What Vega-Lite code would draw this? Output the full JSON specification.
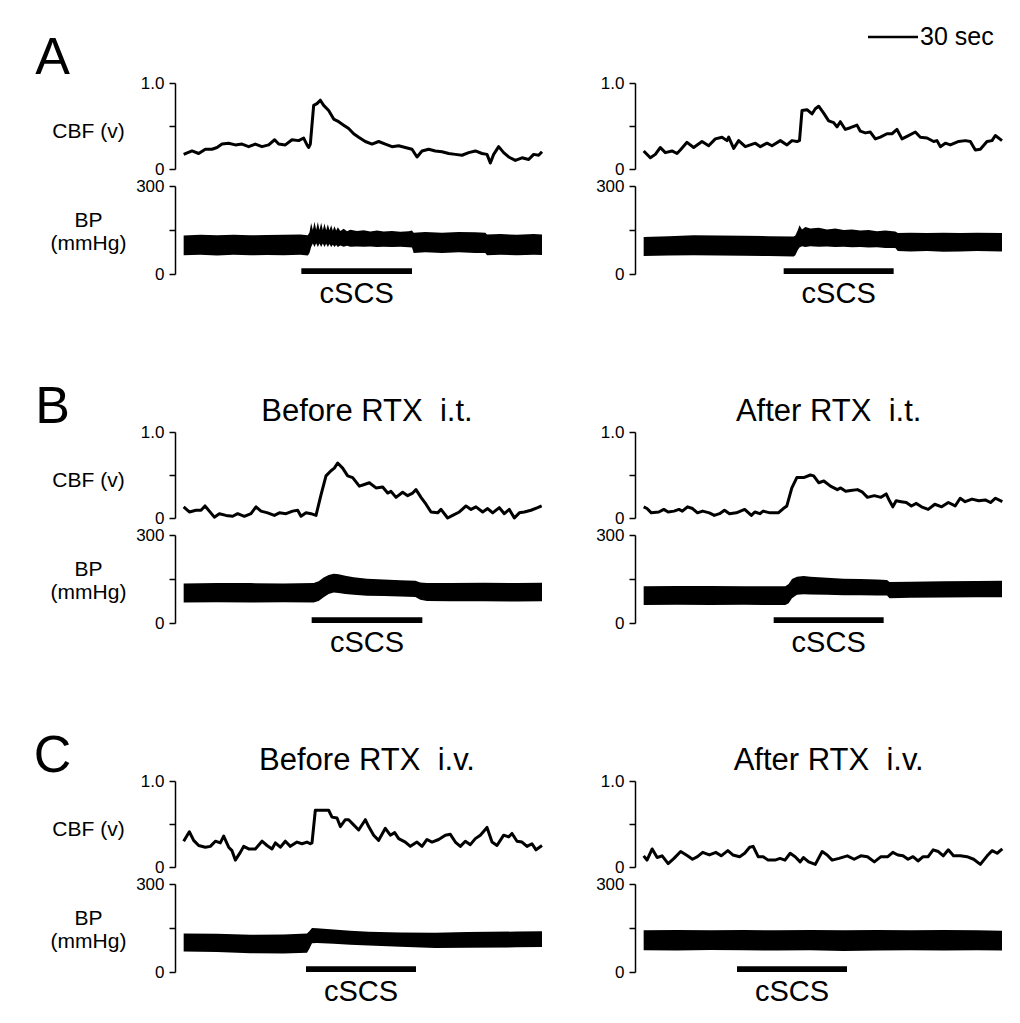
{
"$schema": "https://vega.github.io/schema/vega-lite/v6.json",
"padding": {"left": 33, "top": 24, "right": 5, "bottom": 5},
"bounds": "flush",
"align": "each",
"columns": 2,
"spacing": {"row": 17, "column": 90},
"config": {
 "view": {"stroke": null},
 "font": "Liberation Sans",
 "axis": {"domainColor": "black", "domainWidth": 1.5, "tickColor": "black", "tickWidth": 1.5, "tickSize": 6, "labelColor": "black", "labelFontSize": 17, "labelPadding": 5, "grid": false, "labelOverlap": false, "titleColor": "black", "titleFontSize": 21, "titleFontWeight": "normal", "titleAngle": 0, "titleAlign": "center", "titleBaseline": "middle", "titleX": -87, "titleLineHeight": 23},
 "text": {"color": "black"},
 "area": {"color": "black"},
 "rect": {"color": "black"}
},
"datasets": {
 "cbfA1": [{"t":0,"v":0.17},{"t":5,"v":0.21},{"t":9,"v":0.18},{"t":13,"v":0.23},{"t":17,"v":0.23},{"t":20,"v":0.25},{"t":23,"v":0.29},{"t":27,"v":0.30},{"t":31,"v":0.28},{"t":35,"v":0.29},{"t":39,"v":0.26},{"t":43,"v":0.29},{"t":47,"v":0.26},{"t":51,"v":0.28},{"t":54.6,"v":0.34},{"t":57,"v":0.29},{"t":61,"v":0.28},{"t":65,"v":0.34},{"t":69,"v":0.33},{"t":72,"v":0.36},{"t":74,"v":0.28},{"t":75,"v":0.25},{"t":76,"v":0.29},{"t":78,"v":0.74},{"t":80,"v":0.76},{"t":82,"v":0.80},{"t":84,"v":0.74},{"t":87,"v":0.68},{"t":90,"v":0.58},{"t":93,"v":0.55},{"t":96,"v":0.51},{"t":99,"v":0.47},{"t":102,"v":0.41},{"t":105,"v":0.37},{"t":109,"v":0.32},{"t":113,"v":0.29},{"t":117,"v":0.32},{"t":121,"v":0.29},{"t":125,"v":0.26},{"t":129,"v":0.27},{"t":133,"v":0.25},{"t":137,"v":0.23},{"t":140,"v":0.14},{"t":143,"v":0.21},{"t":147,"v":0.23},{"t":151,"v":0.21},{"t":155,"v":0.20},{"t":159,"v":0.18},{"t":163,"v":0.17},{"t":167,"v":0.16},{"t":171,"v":0.19},{"t":175,"v":0.21},{"t":179,"v":0.18},{"t":182,"v":0.17},{"t":184,"v":0.07},{"t":186,"v":0.17},{"t":189,"v":0.26},{"t":192,"v":0.19},{"t":195,"v":0.14},{"t":199,"v":0.10},{"t":203,"v":0.13},{"t":207,"v":0.11},{"t":210,"v":0.17},{"t":213,"v":0.16},{"t":215,"v":0.20}],
 "cbfA2": [{"t":0,"v":0.21},{"t":4,"v":0.13},{"t":7,"v":0.17},{"t":10,"v":0.25},{"t":13,"v":0.19},{"t":17,"v":0.21},{"t":20,"v":0.18},{"t":22,"v":0.22},{"t":26,"v":0.31},{"t":30,"v":0.25},{"t":35,"v":0.32},{"t":39,"v":0.27},{"t":43,"v":0.35},{"t":47,"v":0.37},{"t":50,"v":0.33},{"t":51,"v":0.37},{"t":54,"v":0.24},{"t":57,"v":0.33},{"t":61,"v":0.26},{"t":67,"v":0.30},{"t":70,"v":0.26},{"t":74,"v":0.30},{"t":77,"v":0.27},{"t":82,"v":0.33},{"t":86,"v":0.28},{"t":89,"v":0.33},{"t":92,"v":0.32},{"t":93.5,"v":0.33},{"t":95,"v":0.68},{"t":98,"v":0.69},{"t":101,"v":0.64},{"t":103,"v":0.70},{"t":105,"v":0.73},{"t":108,"v":0.65},{"t":111,"v":0.56},{"t":114,"v":0.54},{"t":116,"v":0.49},{"t":118,"v":0.55},{"t":121,"v":0.46},{"t":124,"v":0.48},{"t":128,"v":0.51},{"t":130,"v":0.44},{"t":133,"v":0.42},{"t":136,"v":0.43},{"t":139,"v":0.35},{"t":142,"v":0.37},{"t":146,"v":0.41},{"t":149,"v":0.41},{"t":152,"v":0.46},{"t":155,"v":0.35},{"t":158,"v":0.38},{"t":163,"v":0.43},{"t":166,"v":0.37},{"t":170,"v":0.36},{"t":174,"v":0.32},{"t":176,"v":0.33},{"t":178,"v":0.26},{"t":181,"v":0.30},{"t":184,"v":0.28},{"t":189,"v":0.32},{"t":193,"v":0.33},{"t":196,"v":0.32},{"t":199,"v":0.22},{"t":202,"v":0.23},{"t":206,"v":0.32},{"t":209,"v":0.33},{"t":211,"v":0.39},{"t":215,"v":0.33}],
 "cbfB1": [{"t":0,"v":0.13},{"t":3.4,"v":0.07},{"t":7.4,"v":0.09},{"t":10.4,"v":0.09},{"t":12.8,"v":0.14},{"t":15.4,"v":0.08},{"t":18.4,"v":0.01},{"t":21.4,"v":0.05},{"t":25.4,"v":0.03},{"t":29.4,"v":0.02},{"t":32.4,"v":0.05},{"t":36.4,"v":0.02},{"t":40.4,"v":0.05},{"t":43.4,"v":0.13},{"t":46.4,"v":0.08},{"t":50.4,"v":0.06},{"t":54.4,"v":0.03},{"t":57.4,"v":0.06},{"t":61.4,"v":0.05},{"t":65.4,"v":0.08},{"t":68.4,"v":0.09},{"t":70.4,"v":0.02},{"t":73.4,"v":0.06},{"t":76.4,"v":0.05},{"t":79.4,"v":0.03},{"t":82.4,"v":0.27},{"t":85.4,"v":0.49},{"t":88.4,"v":0.55},{"t":90.4,"v":0.58},{"t":92.4,"v":0.64},{"t":95.4,"v":0.58},{"t":98.4,"v":0.49},{"t":101.4,"v":0.47},{"t":105.4,"v":0.37},{"t":108.4,"v":0.39},{"t":111.4,"v":0.41},{"t":115.4,"v":0.35},{"t":119.4,"v":0.36},{"t":122.4,"v":0.29},{"t":124.4,"v":0.31},{"t":127.4,"v":0.24},{"t":131.4,"v":0.30},{"t":134.4,"v":0.26},{"t":137.4,"v":0.29},{"t":139.4,"v":0.33},{"t":142.4,"v":0.24},{"t":145.4,"v":0.16},{"t":148.4,"v":0.07},{"t":152.4,"v":0.06},{"t":154.4,"v":0.10},{"t":158.4,"v":0.0},{"t":161.4,"v":0.03},{"t":165.4,"v":0.07},{"t":169.4,"v":0.14},{"t":172.4,"v":0.10},{"t":175.4,"v":0.13},{"t":179.4,"v":0.07},{"t":182.4,"v":0.11},{"t":185.4,"v":0.06},{"t":189.4,"v":0.12},{"t":192.4,"v":0.05},{"t":195.4,"v":0.10},{"t":198.4,"v":0.0},{"t":201.4,"v":0.06},{"t":204.4,"v":0.07},{"t":208.4,"v":0.09},{"t":212.4,"v":0.12},{"t":214.8,"v":0.14}],
 "cbfB2": [{"t":0,"v":0.13},{"t":2,"v":0.11},{"t":4.6,"v":0.06},{"t":9.1,"v":0.07},{"t":12.1,"v":0.10},{"t":14.7,"v":0.07},{"t":18.2,"v":0.08},{"t":21.2,"v":0.10},{"t":23.2,"v":0.08},{"t":26.3,"v":0.13},{"t":29.3,"v":0.11},{"t":32.3,"v":0.06},{"t":35.4,"v":0.08},{"t":39.4,"v":0.06},{"t":42.4,"v":0.03},{"t":45.5,"v":0.05},{"t":48.5,"v":0.09},{"t":51.5,"v":0.05},{"t":55.6,"v":0.06},{"t":60.6,"v":0.10},{"t":64.6,"v":0.03},{"t":66.7,"v":0.07},{"t":69.7,"v":0.05},{"t":71.7,"v":0.08},{"t":75.8,"v":0.06},{"t":80.8,"v":0.06},{"t":83.8,"v":0.11},{"t":85.9,"v":0.14},{"t":88.9,"v":0.35},{"t":91.9,"v":0.47},{"t":96,"v":0.47},{"t":100,"v":0.50},{"t":102,"v":0.49},{"t":105,"v":0.41},{"t":108.1,"v":0.43},{"t":112.1,"v":0.37},{"t":116.2,"v":0.33},{"t":118.2,"v":0.35},{"t":121.2,"v":0.31},{"t":124.2,"v":0.32},{"t":128.3,"v":0.33},{"t":131.3,"v":0.30},{"t":134.3,"v":0.24},{"t":138.4,"v":0.26},{"t":142.4,"v":0.24},{"t":145.5,"v":0.28},{"t":147.5,"v":0.20},{"t":149.5,"v":0.13},{"t":151.5,"v":0.20},{"t":154.5,"v":0.19},{"t":157.6,"v":0.18},{"t":160.6,"v":0.14},{"t":163.6,"v":0.17},{"t":166.7,"v":0.13},{"t":170.7,"v":0.10},{"t":174.7,"v":0.16},{"t":178.8,"v":0.13},{"t":182.8,"v":0.18},{"t":186.9,"v":0.14},{"t":189.9,"v":0.23},{"t":192.9,"v":0.19},{"t":197,"v":0.22},{"t":201,"v":0.20},{"t":205,"v":0.21},{"t":208.1,"v":0.18},{"t":211.1,"v":0.23},{"t":215.2,"v":0.19}],
 "cbfC1": [{"t":0,"v":0.30},{"t":3.4,"v":0.41},{"t":6,"v":0.31},{"t":9,"v":0.25},{"t":13,"v":0.23},{"t":16,"v":0.24},{"t":19,"v":0.30},{"t":22,"v":0.28},{"t":24,"v":0.36},{"t":27,"v":0.23},{"t":29,"v":0.19},{"t":31,"v":0.08},{"t":34,"v":0.17},{"t":36,"v":0.24},{"t":39,"v":0.21},{"t":43,"v":0.21},{"t":47,"v":0.30},{"t":50,"v":0.25},{"t":53,"v":0.21},{"t":55,"v":0.28},{"t":58,"v":0.23},{"t":61,"v":0.30},{"t":64,"v":0.24},{"t":68,"v":0.29},{"t":71,"v":0.27},{"t":74,"v":0.29},{"t":76,"v":0.27},{"t":77,"v":0.28},{"t":79,"v":0.66},{"t":83,"v":0.66},{"t":87,"v":0.66},{"t":89,"v":0.58},{"t":92,"v":0.57},{"t":94,"v":0.47},{"t":97,"v":0.55},{"t":99,"v":0.55},{"t":102,"v":0.49},{"t":105,"v":0.43},{"t":109,"v":0.55},{"t":111,"v":0.47},{"t":114,"v":0.37},{"t":117,"v":0.31},{"t":121,"v":0.45},{"t":124,"v":0.37},{"t":126.6,"v":0.40},{"t":129,"v":0.33},{"t":133,"v":0.29},{"t":136,"v":0.24},{"t":140,"v":0.29},{"t":143,"v":0.24},{"t":146,"v":0.32},{"t":149,"v":0.29},{"t":153,"v":0.32},{"t":157,"v":0.37},{"t":160,"v":0.38},{"t":163,"v":0.29},{"t":166,"v":0.24},{"t":169,"v":0.30},{"t":172,"v":0.26},{"t":175,"v":0.33},{"t":178,"v":0.37},{"t":182,"v":0.46},{"t":185,"v":0.29},{"t":188,"v":0.25},{"t":192,"v":0.37},{"t":195,"v":0.35},{"t":197,"v":0.39},{"t":200,"v":0.30},{"t":203,"v":0.29},{"t":206,"v":0.24},{"t":209,"v":0.27},{"t":211.4,"v":0.20},{"t":215,"v":0.25}],
 "cbfC2": [{"t":0,"v":0.13},{"t":2,"v":0.08},{"t":5.1,"v":0.21},{"t":8.1,"v":0.11},{"t":11.1,"v":0.13},{"t":14.7,"v":0.04},{"t":18.2,"v":0.10},{"t":22.2,"v":0.18},{"t":26.3,"v":0.13},{"t":29.3,"v":0.09},{"t":32.3,"v":0.12},{"t":35.4,"v":0.17},{"t":39.4,"v":0.14},{"t":43.4,"v":0.17},{"t":46.5,"v":0.13},{"t":50.5,"v":0.19},{"t":53.5,"v":0.14},{"t":57.6,"v":0.12},{"t":60.6,"v":0.16},{"t":63.6,"v":0.23},{"t":65.7,"v":0.24},{"t":68.7,"v":0.12},{"t":71.7,"v":0.12},{"t":74.7,"v":0.08},{"t":78.8,"v":0.08},{"t":81.8,"v":0.10},{"t":84.8,"v":0.08},{"t":87.9,"v":0.16},{"t":90.9,"v":0.12},{"t":93.9,"v":0.06},{"t":95.9,"v":0.11},{"t":99,"v":0.06},{"t":103,"v":0.03},{"t":107.1,"v":0.18},{"t":110.1,"v":0.14},{"t":113.1,"v":0.08},{"t":117.2,"v":0.10},{"t":122.2,"v":0.13},{"t":126.3,"v":0.09},{"t":130.3,"v":0.13},{"t":134.3,"v":0.12},{"t":138.4,"v":0.06},{"t":142.4,"v":0.12},{"t":146.5,"v":0.12},{"t":149.5,"v":0.17},{"t":152.5,"v":0.14},{"t":155.6,"v":0.13},{"t":158.6,"v":0.09},{"t":161.6,"v":0.12},{"t":164.6,"v":0.07},{"t":167.7,"v":0.12},{"t":170.7,"v":0.12},{"t":173.7,"v":0.20},{"t":176.8,"v":0.18},{"t":179.8,"v":0.13},{"t":182.8,"v":0.20},{"t":185.9,"v":0.13},{"t":190,"v":0.13},{"t":194,"v":0.12},{"t":198,"v":0.09},{"t":202,"v":0.03},{"t":206.1,"v":0.13},{"t":209.1,"v":0.19},{"t":212.1,"v":0.16},{"t":215.2,"v":0.21}],
 "bpA1": [{"t":0,"lo":64,"hi":131},{"t":10,"lo":66,"hi":134},{"t":20,"lo":63,"hi":132},{"t":30,"lo":66,"hi":134},{"t":40,"lo":64,"hi":132},{"t":50,"lo":65,"hi":133},{"t":60,"lo":64,"hi":134},{"t":70,"lo":66,"hi":135},{"t":74.5,"lo":63,"hi":132},{"t":75.5,"lo":72,"hi":142},{"t":76.5,"lo":92,"hi":174},{"t":77.5,"lo":104,"hi":150},{"t":78.5,"lo":92,"hi":178},{"t":79.5,"lo":105,"hi":151},{"t":80.5,"lo":92,"hi":177},{"t":81.5,"lo":104,"hi":150},{"t":82.5,"lo":92,"hi":175},{"t":83.5,"lo":104,"hi":150},{"t":84.5,"lo":92,"hi":172},{"t":85.5,"lo":103,"hi":149},{"t":86.5,"lo":92,"hi":170},{"t":87.5,"lo":102,"hi":149},{"t":88.5,"lo":92,"hi":166},{"t":89.5,"lo":100,"hi":148},{"t":90.5,"lo":92,"hi":163},{"t":91.5,"lo":99,"hi":148},{"t":92.5,"lo":92,"hi":159},{"t":94,"lo":97,"hi":147},{"t":96,"lo":93,"hi":154},{"t":98,"lo":96,"hi":146},{"t":100,"lo":93,"hi":151},{"t":104,"lo":94,"hi":147},{"t":108,"lo":93,"hi":149},{"t":112,"lo":94,"hi":145},{"t":116,"lo":92,"hi":148},{"t":120,"lo":93,"hi":145},{"t":125,"lo":92,"hi":147},{"t":130,"lo":93,"hi":144},{"t":135,"lo":91,"hi":146},{"t":137,"lo":90,"hi":148},{"t":138,"lo":72,"hi":141},{"t":145,"lo":74,"hi":143},{"t":155,"lo":72,"hi":141},{"t":165,"lo":74,"hi":143},{"t":175,"lo":72,"hi":142},{"t":181,"lo":72,"hi":141},{"t":182,"lo":64,"hi":135},{"t":190,"lo":66,"hi":136},{"t":200,"lo":64,"hi":134},{"t":210,"lo":66,"hi":136},{"t":215,"lo":65,"hi":135}],
 "bpA2": [{"t":0,"lo":61,"hi":126},{"t":15,"lo":63,"hi":129},{"t":30,"lo":64,"hi":132},{"t":45,"lo":63,"hi":131},{"t":60,"lo":62,"hi":130},{"t":75,"lo":61,"hi":129},{"t":90,"lo":60,"hi":128},{"t":91,"lo":64,"hi":131},{"t":92.5,"lo":82,"hi":150},{"t":93.5,"lo":90,"hi":166},{"t":95,"lo":95,"hi":152},{"t":97,"lo":92,"hi":160},{"t":100,"lo":95,"hi":155},{"t":105,"lo":93,"hi":158},{"t":110,"lo":94,"hi":152},{"t":115,"lo":92,"hi":155},{"t":120,"lo":93,"hi":150},{"t":125,"lo":91,"hi":152},{"t":130,"lo":92,"hi":148},{"t":135,"lo":90,"hi":150},{"t":140,"lo":91,"hi":146},{"t":145,"lo":89,"hi":148},{"t":151,"lo":89,"hi":145},{"t":152.5,"lo":78,"hi":140},{"t":160,"lo":77,"hi":141},{"t":170,"lo":78,"hi":140},{"t":180,"lo":76,"hi":141},{"t":190,"lo":77,"hi":140},{"t":200,"lo":78,"hi":141},{"t":215,"lo":77,"hi":140}],
 "bpB1": [{"t":0,"lo":70,"hi":135},{"t":20,"lo":71,"hi":136},{"t":40,"lo":70,"hi":136},{"t":60,"lo":71,"hi":135},{"t":78,"lo":70,"hi":136},{"t":81,"lo":75,"hi":142},{"t":84,"lo":88,"hi":155},{"t":87,"lo":99,"hi":164},{"t":90,"lo":104,"hi":168},{"t":93,"lo":102,"hi":166},{"t":97,"lo":99,"hi":161},{"t":102,"lo":96,"hi":156},{"t":110,"lo":93,"hi":151},{"t":120,"lo":92,"hi":148},{"t":130,"lo":90,"hi":146},{"t":139,"lo":89,"hi":144},{"t":142,"lo":79,"hi":138},{"t":146,"lo":75,"hi":136},{"t":160,"lo":74,"hi":136},{"t":180,"lo":74,"hi":137},{"t":200,"lo":73,"hi":136},{"t":215,"lo":74,"hi":137}],
 "bpB2": [{"t":0,"lo":61,"hi":125},{"t":20,"lo":62,"hi":126},{"t":40,"lo":61,"hi":126},{"t":60,"lo":62,"hi":125},{"t":85,"lo":61,"hi":125},{"t":87,"lo":67,"hi":133},{"t":89,"lo":84,"hi":150},{"t":92,"lo":96,"hi":158},{"t":96,"lo":98,"hi":160},{"t":100,"lo":97,"hi":158},{"t":110,"lo":96,"hi":154},{"t":120,"lo":95,"hi":151},{"t":130,"lo":95,"hi":150},{"t":140,"lo":94,"hi":148},{"t":146,"lo":94,"hi":147},{"t":147.5,"lo":84,"hi":140},{"t":160,"lo":86,"hi":141},{"t":180,"lo":87,"hi":142},{"t":200,"lo":88,"hi":143},{"t":215,"lo":88,"hi":144}],
 "bpC1": [{"t":0,"lo":70,"hi":131},{"t":20,"lo":68,"hi":130},{"t":40,"lo":64,"hi":127},{"t":60,"lo":63,"hi":128},{"t":74,"lo":66,"hi":131},{"t":75.5,"lo":80,"hi":140},{"t":77,"lo":98,"hi":150},{"t":80,"lo":99,"hi":149},{"t":90,"lo":96,"hi":145},{"t":100,"lo":93,"hi":141},{"t":111,"lo":90,"hi":137},{"t":130,"lo":86,"hi":135},{"t":151,"lo":82,"hi":134},{"t":170,"lo":83,"hi":136},{"t":200,"lo":84,"hi":138},{"t":215,"lo":85,"hi":139}],
 "bpC2": [{"t":0,"lo":74,"hi":142},{"t":20,"lo":73,"hi":143},{"t":40,"lo":75,"hi":142},{"t":60,"lo":74,"hi":143},{"t":80,"lo":73,"hi":142},{"t":100,"lo":74,"hi":143},{"t":120,"lo":72,"hi":142},{"t":140,"lo":73,"hi":143},{"t":160,"lo":74,"hi":142},{"t":180,"lo":73,"hi":143},{"t":200,"lo":74,"hi":142},{"t":215,"lo":73,"hi":141}],
 "stim": [{"panel":"A1","start":70.6,"end":137,"label":"cSCS"},{"panel":"A2","start":84,"end":150,"label":"cSCS"},{"panel":"B1","start":76.8,"end":143.2,"label":"cSCS"},{"panel":"B2","start":78,"end":144,"label":"cSCS"},{"panel":"C1","start":73.4,"end":139.4,"label":"cSCS"},{"panel":"C2","start":56,"end":122,"label":"cSCS"}],
 "titles": [{"panel":"B1","label":"Before RTX \u00a0i.t.","pos":110},{"panel":"B2","label":"After RTX \u00a0i.t.","pos":111},{"panel":"C1","label":"Before RTX \u00a0i.v.","pos":110},{"panel":"C2","label":"After RTX \u00a0i.v.","pos":111}]
},
"concat": [
 {"width": 370, "height": 86, "layer": [
  {"data": {"name": "cbfA1"}, "mark": {"type": "line", "color": "black", "strokeWidth": 3, "strokeJoin": "round"}, "encoding": {"x": {"field": "t", "type": "quantitative", "scale": {"domain": [-5.2, 216.8], "nice": false}, "axis": null}, "y": {"field": "v", "type": "quantitative", "scale": {"domain": [0, 1], "nice": false}, "axis": {"values": [0, 0.5, 1], "labelExpr": "datum.value === 0 ? '0' : datum.value === 1 ? '1.0' : ''", "title": "CBF (v)", "titleY": 48}}}},
  {"data": {"values": [{"label": "A"}]}, "mark": {"type": "text", "fontSize": 52, "align": "center", "baseline": "alphabetic"}, "encoding": {"x": {"datum": -78.7, "type": "quantitative"}, "y": {"datum": 1.1, "type": "quantitative"}, "text": {"field": "label"}}}
 ]},
 {"width": 370, "height": 86, "layer": [
  {"data": {"name": "cbfA2"}, "mark": {"type": "line", "color": "black", "strokeWidth": 3, "strokeJoin": "round"}, "encoding": {"x": {"field": "t", "type": "quantitative", "scale": {"domain": [-5.2, 216.8], "nice": false}, "axis": null}, "y": {"field": "v", "type": "quantitative", "scale": {"domain": [0, 1], "nice": false}, "axis": {"values": [0, 0.5, 1], "labelExpr": "datum.value === 0 ? '0' : datum.value === 1 ? '1.0' : ''", "title": null}}}},
  {"data": {"values": [{"label": "30 sec"}]}, "mark": {"type": "rule", "color": "black", "strokeWidth": 2.5}, "encoding": {"x": {"datum": 134.6, "type": "quantitative"}, "x2": {"datum": 164.6}, "y": {"datum": 1.535, "type": "quantitative"}}},
  {"data": {"values": [{"label": "30 sec"}]}, "mark": {"type": "text", "fontSize": 25, "align": "left", "baseline": "middle", "dx": 2}, "encoding": {"x": {"datum": 164.6, "type": "quantitative"}, "y": {"datum": 1.535, "type": "quantitative"}, "text": {"field": "label"}}}
 ]},
 {"width": 370, "height": 88, "layer": [
  {"data": {"name": "bpA1"}, "mark": "area", "encoding": {"x": {"field": "t", "type": "quantitative", "scale": {"domain": [-5.2, 216.8], "nice": false}, "axis": null}, "y": {"field": "lo", "type": "quantitative", "scale": {"domain": [0, 300], "nice": false}, "axis": {"values": [0, 150, 300], "labelExpr": "datum.value === 150 ? '' : datum.label", "title": ["BP", "(mmHg)"], "titleY": 34}}, "y2": {"field": "hi"}}},
  {"data": {"name": "stim"}, "transform": [{"filter": "datum.panel === 'A1'"}], "mark": "rect", "encoding": {"x": {"field": "start", "type": "quantitative"}, "x2": {"field": "end"}, "y": {"datum": 0, "type": "quantitative"}, "y2": {"datum": 20}}},
  {"data": {"name": "stim"}, "transform": [{"filter": "datum.panel === 'A1'"}, {"calculate": "(datum.start + datum.end) / 2", "as": "mid"}], "mark": {"type": "text", "fontSize": 29, "baseline": "alphabetic", "align": "center", "dy": 29}, "encoding": {"x": {"field": "mid", "type": "quantitative"}, "y": {"datum": 0, "type": "quantitative"}, "text": {"field": "label"}}}
 ]},
 {"width": 370, "height": 88, "layer": [
  {"data": {"name": "bpA2"}, "mark": "area", "encoding": {"x": {"field": "t", "type": "quantitative", "scale": {"domain": [-5.2, 216.8], "nice": false}, "axis": null}, "y": {"field": "lo", "type": "quantitative", "scale": {"domain": [0, 300], "nice": false}, "axis": {"values": [0, 150, 300], "labelExpr": "datum.value === 150 ? '' : datum.label", "title": null}}, "y2": {"field": "hi"}}},
  {"data": {"name": "stim"}, "transform": [{"filter": "datum.panel === 'A2'"}], "mark": "rect", "encoding": {"x": {"field": "start", "type": "quantitative"}, "x2": {"field": "end"}, "y": {"datum": 0, "type": "quantitative"}, "y2": {"datum": 20}}},
  {"data": {"name": "stim"}, "transform": [{"filter": "datum.panel === 'A2'"}, {"calculate": "(datum.start + datum.end) / 2", "as": "mid"}], "mark": {"type": "text", "fontSize": 29, "baseline": "alphabetic", "align": "center", "dy": 29}, "encoding": {"x": {"field": "mid", "type": "quantitative"}, "y": {"datum": 0, "type": "quantitative"}, "text": {"field": "label"}}}
 ]},
 {"width": 370, "height": 124, "data": {"values": []}, "mark": "point", "encoding": {}},
 {"width": 370, "height": 124, "data": {"values": []}, "mark": "point", "encoding": {}},
 {"width": 370, "height": 86, "layer": [
  {"data": {"name": "cbfB1"}, "mark": {"type": "line", "color": "black", "strokeWidth": 3, "strokeJoin": "round"}, "encoding": {"x": {"field": "t", "type": "quantitative", "scale": {"domain": [-5.2, 216.8], "nice": false}, "axis": null}, "y": {"field": "v", "type": "quantitative", "scale": {"domain": [0, 1], "nice": false}, "axis": {"values": [0, 0.5, 1], "labelExpr": "datum.value === 0 ? '0' : datum.value === 1 ? '1.0' : ''", "title": "CBF (v)", "titleY": 48}}}},
  {"data": {"values": [{"label": "B"}]}, "mark": {"type": "text", "fontSize": 52, "align": "center", "baseline": "alphabetic"}, "encoding": {"x": {"datum": -78.7, "type": "quantitative"}, "y": {"datum": 1.1, "type": "quantitative"}, "text": {"field": "label"}}},
  {"data": {"name": "titles"}, "transform": [{"filter": "datum.panel === 'B1'"}], "mark": {"type": "text", "fontSize": 31, "align": "center", "baseline": "alphabetic"}, "encoding": {"x": {"field": "pos", "type": "quantitative"}, "y": {"datum": 1.128, "type": "quantitative"}, "text": {"field": "label"}}}
 ]},
 {"width": 370, "height": 86, "layer": [
  {"data": {"name": "cbfB2"}, "mark": {"type": "line", "color": "black", "strokeWidth": 3, "strokeJoin": "round"}, "encoding": {"x": {"field": "t", "type": "quantitative", "scale": {"domain": [-5.2, 216.8], "nice": false}, "axis": null}, "y": {"field": "v", "type": "quantitative", "scale": {"domain": [0, 1], "nice": false}, "axis": {"values": [0, 0.5, 1], "labelExpr": "datum.value === 0 ? '0' : datum.value === 1 ? '1.0' : ''", "title": null}}}},
  {"data": {"name": "titles"}, "transform": [{"filter": "datum.panel === 'B2'"}], "mark": {"type": "text", "fontSize": 31, "align": "center", "baseline": "alphabetic"}, "encoding": {"x": {"field": "pos", "type": "quantitative"}, "y": {"datum": 1.128, "type": "quantitative"}, "text": {"field": "label"}}}
 ]},
 {"width": 370, "height": 88, "layer": [
  {"data": {"name": "bpB1"}, "mark": "area", "encoding": {"x": {"field": "t", "type": "quantitative", "scale": {"domain": [-5.2, 216.8], "nice": false}, "axis": null}, "y": {"field": "lo", "type": "quantitative", "scale": {"domain": [0, 300], "nice": false}, "axis": {"values": [0, 150, 300], "labelExpr": "datum.value === 150 ? '' : datum.label", "title": ["BP", "(mmHg)"], "titleY": 34}}, "y2": {"field": "hi"}}},
  {"data": {"name": "stim"}, "transform": [{"filter": "datum.panel === 'B1'"}], "mark": "rect", "encoding": {"x": {"field": "start", "type": "quantitative"}, "x2": {"field": "end"}, "y": {"datum": 0, "type": "quantitative"}, "y2": {"datum": 20}}},
  {"data": {"name": "stim"}, "transform": [{"filter": "datum.panel === 'B1'"}, {"calculate": "(datum.start + datum.end) / 2", "as": "mid"}], "mark": {"type": "text", "fontSize": 29, "baseline": "alphabetic", "align": "center", "dy": 29}, "encoding": {"x": {"field": "mid", "type": "quantitative"}, "y": {"datum": 0, "type": "quantitative"}, "text": {"field": "label"}}}
 ]},
 {"width": 370, "height": 88, "layer": [
  {"data": {"name": "bpB2"}, "mark": "area", "encoding": {"x": {"field": "t", "type": "quantitative", "scale": {"domain": [-5.2, 216.8], "nice": false}, "axis": null}, "y": {"field": "lo", "type": "quantitative", "scale": {"domain": [0, 300], "nice": false}, "axis": {"values": [0, 150, 300], "labelExpr": "datum.value === 150 ? '' : datum.label", "title": null}}, "y2": {"field": "hi"}}},
  {"data": {"name": "stim"}, "transform": [{"filter": "datum.panel === 'B2'"}], "mark": "rect", "encoding": {"x": {"field": "start", "type": "quantitative"}, "x2": {"field": "end"}, "y": {"datum": 0, "type": "quantitative"}, "y2": {"datum": 20}}},
  {"data": {"name": "stim"}, "transform": [{"filter": "datum.panel === 'B2'"}, {"calculate": "(datum.start + datum.end) / 2", "as": "mid"}], "mark": {"type": "text", "fontSize": 29, "baseline": "alphabetic", "align": "center", "dy": 29}, "encoding": {"x": {"field": "mid", "type": "quantitative"}, "y": {"datum": 0, "type": "quantitative"}, "text": {"field": "label"}}}
 ]},
 {"width": 370, "height": 124, "data": {"values": []}, "mark": "point", "encoding": {}},
 {"width": 370, "height": 124, "data": {"values": []}, "mark": "point", "encoding": {}},
 {"width": 370, "height": 86, "layer": [
  {"data": {"name": "cbfC1"}, "mark": {"type": "line", "color": "black", "strokeWidth": 3, "strokeJoin": "round"}, "encoding": {"x": {"field": "t", "type": "quantitative", "scale": {"domain": [-5.2, 216.8], "nice": false}, "axis": null}, "y": {"field": "v", "type": "quantitative", "scale": {"domain": [0, 1], "nice": false}, "axis": {"values": [0, 0.5, 1], "labelExpr": "datum.value === 0 ? '0' : datum.value === 1 ? '1.0' : ''", "title": "CBF (v)", "titleY": 48}}}},
  {"data": {"values": [{"label": "C"}]}, "mark": {"type": "text", "fontSize": 52, "align": "center", "baseline": "alphabetic"}, "encoding": {"x": {"datum": -78.7, "type": "quantitative"}, "y": {"datum": 1.1, "type": "quantitative"}, "text": {"field": "label"}}},
  {"data": {"name": "titles"}, "transform": [{"filter": "datum.panel === 'C1'"}], "mark": {"type": "text", "fontSize": 31, "align": "center", "baseline": "alphabetic"}, "encoding": {"x": {"field": "pos", "type": "quantitative"}, "y": {"datum": 1.128, "type": "quantitative"}, "text": {"field": "label"}}}
 ]},
 {"width": 370, "height": 86, "layer": [
  {"data": {"name": "cbfC2"}, "mark": {"type": "line", "color": "black", "strokeWidth": 3, "strokeJoin": "round"}, "encoding": {"x": {"field": "t", "type": "quantitative", "scale": {"domain": [-5.2, 216.8], "nice": false}, "axis": null}, "y": {"field": "v", "type": "quantitative", "scale": {"domain": [0, 1], "nice": false}, "axis": {"values": [0, 0.5, 1], "labelExpr": "datum.value === 0 ? '0' : datum.value === 1 ? '1.0' : ''", "title": null}}}},
  {"data": {"name": "titles"}, "transform": [{"filter": "datum.panel === 'C2'"}], "mark": {"type": "text", "fontSize": 31, "align": "center", "baseline": "alphabetic"}, "encoding": {"x": {"field": "pos", "type": "quantitative"}, "y": {"datum": 1.128, "type": "quantitative"}, "text": {"field": "label"}}}
 ]},
 {"width": 370, "height": 88, "layer": [
  {"data": {"name": "bpC1"}, "mark": "area", "encoding": {"x": {"field": "t", "type": "quantitative", "scale": {"domain": [-5.2, 216.8], "nice": false}, "axis": null}, "y": {"field": "lo", "type": "quantitative", "scale": {"domain": [0, 300], "nice": false}, "axis": {"values": [0, 150, 300], "labelExpr": "datum.value === 150 ? '' : datum.label", "title": ["BP", "(mmHg)"], "titleY": 34}}, "y2": {"field": "hi"}}},
  {"data": {"name": "stim"}, "transform": [{"filter": "datum.panel === 'C1'"}], "mark": "rect", "encoding": {"x": {"field": "start", "type": "quantitative"}, "x2": {"field": "end"}, "y": {"datum": 0, "type": "quantitative"}, "y2": {"datum": 20}}},
  {"data": {"name": "stim"}, "transform": [{"filter": "datum.panel === 'C1'"}, {"calculate": "(datum.start + datum.end) / 2", "as": "mid"}], "mark": {"type": "text", "fontSize": 29, "baseline": "alphabetic", "align": "center", "dy": 29}, "encoding": {"x": {"field": "mid", "type": "quantitative"}, "y": {"datum": 0, "type": "quantitative"}, "text": {"field": "label"}}}
 ]},
 {"width": 370, "height": 88, "layer": [
  {"data": {"name": "bpC2"}, "mark": "area", "encoding": {"x": {"field": "t", "type": "quantitative", "scale": {"domain": [-5.2, 216.8], "nice": false}, "axis": null}, "y": {"field": "lo", "type": "quantitative", "scale": {"domain": [0, 300], "nice": false}, "axis": {"values": [0, 150, 300], "labelExpr": "datum.value === 150 ? '' : datum.label", "title": null}}, "y2": {"field": "hi"}}},
  {"data": {"name": "stim"}, "transform": [{"filter": "datum.panel === 'C2'"}], "mark": "rect", "encoding": {"x": {"field": "start", "type": "quantitative"}, "x2": {"field": "end"}, "y": {"datum": 0, "type": "quantitative"}, "y2": {"datum": 20}}},
  {"data": {"name": "stim"}, "transform": [{"filter": "datum.panel === 'C2'"}, {"calculate": "(datum.start + datum.end) / 2", "as": "mid"}], "mark": {"type": "text", "fontSize": 29, "baseline": "alphabetic", "align": "center", "dy": 29}, "encoding": {"x": {"field": "mid", "type": "quantitative"}, "y": {"datum": 0, "type": "quantitative"}, "text": {"field": "label"}}}
 ]}
]
}
